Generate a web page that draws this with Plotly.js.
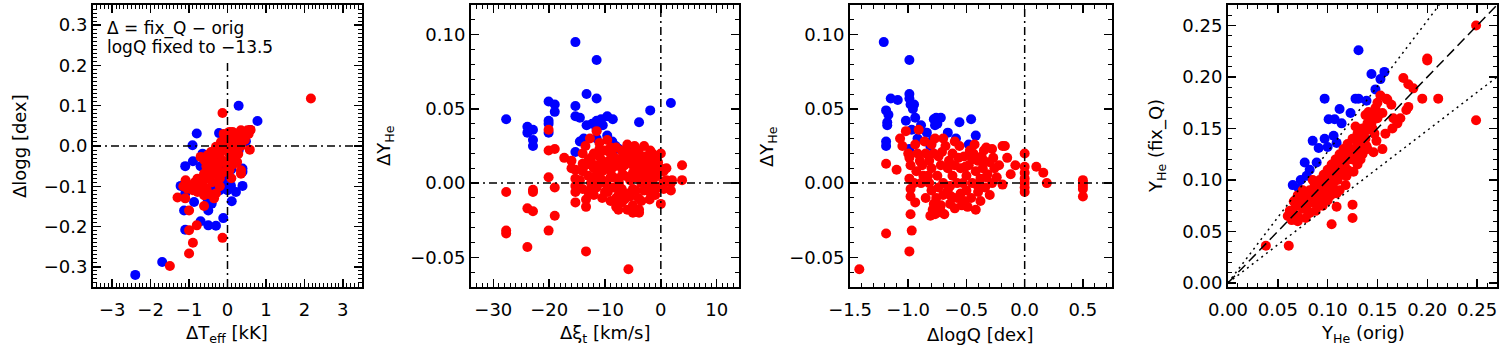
<!DOCTYPE html>
<html>
<head>
<meta charset="utf-8">
<script src="https://cdn.plot.ly/plotly-3.0.1.min.js"></script>
<style>html,body{margin:0;padding:0;background:#fff;}</style>
</head>
<body>
<div id="fig" style="width:1504px;height:354px;"></div>
<script>
// Points are [x, y] pairs, one list per panel and colour

// Panel 1: dTeff [kK] vs dlogg [dex]
const p1Blue = [
  [-2.4,-0.32],[-1.7,-0.288],[-1.1,-0.208],[-0.7,-0.187],[-0.5,-0.197],[-0.3,-0.198],[-0.11,-0.179],
  [-1.13,-0.16],[-0.5,-0.16],[-0.87,-0.139],[-0.41,-0.143],[0.11,-0.137],[-0.52,-0.131],[-1.1,-0.118],
  [0.22,-0.114],[-1.22,-0.099],[-1.04,-0.098],[-0.7,-0.098],[-0.39,-0.102],[-0.26,-0.093],[0.09,-0.099],
  [0.39,-0.099],[-0.65,-0.1],[-0.09,-0.089],[0.07,-0.081],[-0.15,-0.073],[0.39,-0.064],[0.39,-0.056],
  [0.1,-0.058],[-0.13,-0.052],[-0.57,-0.056],[-0.7,-0.05],[-1.1,-0.05],[-0.9,-0.038],[-0.48,-0.031],
  [-0.3,-0.027],[-0.65,-0.019],[0.2,-0.019],[0.29,-0.011],[0.48,0.012],[0.39,0.03],[0.59,0.04],
  [-0.91,0.002],[0.09,0.012],[-0.22,0.032],[-0.8,0.031],[0.29,0.10],[0.78,0.062],[-0.61,-0.044],
  [-0.04,-0.044],[-0.2,-0.11],[0.0,-0.11]
];
const p1Red = [
  [-0.13,0.082],[2.17,0.118],[-1.5,-0.298],[-1.0,-0.267],[-0.9,-0.24],[-1.0,-0.209],[-0.8,-0.197],
  [-0.13,-0.228],[-1.0,-0.16],[-0.61,-0.149],[-1.3,-0.128],[-0.78,-0.114],[-0.61,-0.122],[-0.3,-0.118],
  [-1.04,-0.106],[-0.96,-0.098],[-1.09,-0.085],[-0.78,-0.081],[-0.61,-0.069],[-0.39,-0.056],[-0.48,-0.044],
  [-0.7,-0.027],[-0.39,-0.031],[-0.52,-0.023],[-0.43,-0.015],[-0.26,-0.015],[-0.3,-0.002],[-0.17,0.01],
  [-0.09,0.006],[0,-0.007],[0,0.026],[0.13,0.035],[0.35,0.039],[0.52,0.039],[0.48,0.026],[0.3,0.018],
  [0.58,-0.009],[0.17,0.002],[0.3,0.006],[0.09,0.02],[0.13,-0.027],[0.35,-0.069],
  [0.2,0.03],[0.25,0.02],[0.4,0.03],[0.45,0.015],[0.05,0.01],[-0.05,0.02],[0.1,0.005],[0.2,0.01],
  [-0.1,-0.01],[-0.2,-0.02],[-0.15,-0.035],[0.05,-0.02],[0.2,-0.01],[0.25,-0.04],[-0.35,-0.04],
  [-0.25,-0.05],[-0.45,-0.06],[-0.55,-0.05],[-0.6,-0.035],[-0.3,-0.07],[-0.2,-0.08],[-0.4,-0.09],
  [-0.5,-0.08],[-0.65,-0.09],[-0.85,-0.09],[-0.9,-0.11],[-0.7,-0.1],[-0.55,-0.105],[-0.45,-0.12],
  [-0.2,-0.1],[0.05,-0.06],[0.15,-0.045],[0.35,0.0],[0.4,0.015],[0.55,0.03],[0.6,0.04],[0.35,-0.06],
  [-0.05,-0.04],[0.0,-0.05],[-0.35,-0.015],[-0.1,0.03],[0.05,0.035],[0.28,-0.02],[0.1,-0.08],
  [-0.1,-0.065],[-1.15,-0.1],[-1.1,-0.13],[-0.35,-0.13]
];

// Panel 2: dxi_t [km/s] vs dY_He
const p2Blue = [
  [-15.3,0.095],[-11.5,0.083],[-27.7,0.043],[-23.9,0.038],[-23.9,0.034],[-22.9,0.036],[-22.9,0.029],
  [-22.9,0.025],[-20.1,0.055],[-19.0,0.053],[-19.0,0.048],[-20.1,0.042],[-20.1,0.040],[-20.1,0.034],
  [-15.3,0.052],[-15.3,0.045],[-14.5,0.044],[-13.3,0.060],[-11.5,0.057],[-13.3,0.039],[-11.5,0.042],
  [-10.7,0.043],[-9.6,0.045],[-8.6,0.043],[-11.5,0.036],[-9.6,0.032],[-14.5,0.028],[-15.3,0.021],
  [-11.5,0.030],[-10.4,0.039],[-8.1,0.025],[-7.5,0.023],[-3.9,0.041],[-1.9,0.049],[1.8,0.054],
  [-13.8,0.030],[-12.3,0.040],[-8.7,0.028],[-5,0.021]
];
const p2Red = [
  [-27.7,-0.006],[-27.7,-0.032],[-27.7,-0.034],[-23.9,-0.017],[-22.9,-0.019],[-22.9,-0.0045],
  [-22.9,-0.006],[-23.9,-0.043],[-20.1,0.022],[-19.0,0.023],[-20.1,0.004],[-19.0,-0.003],[-19.0,-0.022],
  [-20.1,-0.032],[-17.3,0.017],[-20.1,0.036],[-13.4,-0.046],[-5.8,-0.058],[-15.3,0.009],[-15.3,0.003],
  [-15.3,-0.002],[-15.3,-0.006],[-15.3,-0.013],[-13.4,-0.011],[-13.4,-0.016],[-11.5,0.035],[-12.7,0.030],
  [3.8,0.012],[3.8,0.002],[1.8,-0.005],[1.8,0.0],[0,-0.014],[0,0.02],[-2,-0.011],[-3.9,-0.02],
  [-3.9,-0.018],[-7.6,-0.018],[-9.6,0.029],[-4.7,0.025],[-1.9,0.022],[-0.7,0.018],
  [-14,0.02],[-13,0.015],[-12,0.02],[-11,0.018],[-10,0.022],[-9,0.02],[-8,0.024],[-7,0.022],[-6,0.026],
  [-5,0.02],[-4,0.022],[-3,0.018],[-2,0.015],[-1,0.012],[0,0.01],
  [-14,0.008],[-13,0.005],[-12,0.01],[-11,0.006],[-10,0.012],[-9,0.008],[-8,0.014],[-7,0.01],[-6,0.016],
  [-5,0.012],[-4,0.008],[-3,0.01],[-2,0.006],[-1,0.004],[1,0.002],
  [-14,-0.004],[-12.5,0.0],[-11.5,-0.003],[-10.5,0.002],[-9.5,-0.002],[-8.5,0.004],[-7.5,0.0],
  [-6.5,0.005],[-5.5,0.002],[-4.5,0.004],[-3.5,0.0],[-2.5,0.002],[-1.5,0.0],[-0.5,-0.003],[0.5,0.001],
  [-12,-0.008],[-10,-0.006],[-8,-0.01],[-7,-0.013],[-6,-0.007],[-5,-0.015],[-4,-0.01],[-3,-0.005],
  [-8,-0.016],[-6,-0.018],[-2,-0.006],
  [-13.5,0.025],[-11,0.027],[-9,0.016],[-7,0.017],[-5,0.007],[-3,0.025],[-1.5,0.02],[-12,0.012],
  [-10.5,0.015],[-8.5,0.011],[-6.5,0.012],[-4.5,0.016],[-2.5,0.012],[-0.5,0.007],[-11,0.0],[-9,0.004],
  [-13,-0.006],[-9,-0.012],[-5,-0.004],[-1,-0.008],[0.5,-0.004],[2,0.002],[-16,0.015],[-16,0.01],[-14,0.013],
  [-13.5,0.012],[-12.5,0.017],[-11.5,0.012],[-10.5,0.008],[-9.5,0.013],[-8.5,0.018],[-7.5,0.014],
  [-6.5,0.019],[-5.5,0.016],[-4.5,0.01],[-3.5,0.014],[-2.5,0.018],[-1.5,0.008],[-0.5,0.014],[0.5,0.008],
  [-12.5,-0.004],[-10.5,-0.01],[-9.5,-0.006],[-8.5,-0.003],[-7.5,-0.007],[-6.5,-0.011],[-5.5,-0.009],
  [-4.5,-0.005],[-3.5,-0.012],[-2.5,-0.003],[-1.5,-0.005],[-7,-0.004],[-5,-0.02],[-7,0.005],[-3,0.005],
  [-11,0.023],[-9,0.024],[-6,0.021],[-4,0.016],[1,0.01],[-14.5,0.002],[-12,0.004],[-10,0.0]
];

// Panel 3: dlogQ [dex] vs dY_He
const p3Blue = [
  [-1.21,0.095],[-0.99,0.083],[-1.15,0.057],[-1.09,0.056],[-0.99,0.060],[-0.99,0.057],[-0.98,0.053],
  [-0.95,0.053],[-1.19,0.049],[-1.17,0.046],[-1.18,0.039],[-1.18,0.041],[-1.02,0.042],[-0.94,0.044],
  [-0.97,0.036],[-1.19,0.028],[-1.19,0.025],[-0.99,0.023],[-0.89,0.039],[-0.84,0.034],[-0.81,0.025],
  [-0.79,0.029],[-0.78,0.043],[-0.76,0.044],[-0.72,0.044],[-0.77,0.039],[-0.66,0.034],[-0.59,0.030],
  [-0.56,0.041],[-0.46,0.043],[-0.42,0.032],[-0.48,0.026],[-0.47,0.021],[-0.92,0.030],[-0.96,0.050],
  [-0.75,0.04]
];
const p3Red = [
  [-1.42,-0.058],[-1.19,-0.034],[-0.99,-0.046],[-0.97,-0.032],[-0.98,-0.021],[-1.19,0.013],[-1.1,0.009],
  [-1.07,0.030],[-1.02,0.035],[-0.91,0.036],[-0.94,0.026],[-0.99,0.017],[-0.98,0.012],[-0.99,0.003],
  [-0.98,-0.004],[-0.98,-0.009],[-0.94,-0.013],[-0.89,0.0],[-0.88,0.012],
  [-0.81,-0.022],[-0.77,-0.021],[-0.72,-0.019],[-0.78,-0.014],[-0.64,-0.014],[-0.54,-0.015],
  [-0.42,-0.018],[-0.55,-0.007],
  [-0.19,0.025],[-0.17,0.025],[-0.28,0.023],[-0.35,0.022],[-0.15,0.017],[-0.08,0.012],[-0.12,0.006],
  [-0.19,-0.001],
  [0,0.02],[0,0.011],[0,0.007],[0,0.003],[0,0.0],[0,-0.003],[0,-0.006],
  [0.1,0.011],[0.16,0.007],[0.19,0.0],
  [0.5,0.002],[0.5,0.0],[0.5,-0.002],[0.5,-0.004],[0.5,-0.009],
  [-0.85,0.02],[-0.82,0.015],[-0.8,0.01],[-0.78,0.02],[-0.75,0.005],[-0.72,0.012],[-0.7,0.0],
  [-0.8,-0.005],[-0.76,-0.01],[-0.7,-0.008],[-0.82,0.0],[-0.74,0.018],[-0.68,0.025],[-0.8,0.026],
  [-0.85,-0.01],[-0.72,-0.015],[-0.66,-0.005],[-0.62,0.005],[-0.6,0.012],[-0.58,0.0],[-0.55,0.01],
  [-0.52,0.018],[-0.5,0.005],[-0.48,0.012],[-0.45,0.0],[-0.42,0.008],[-0.4,0.015],[-0.38,0.003],
  [-0.36,0.01],[-0.34,-0.003],[-0.32,0.006],[-0.3,0.014],[-0.47,0.022],[-0.43,0.026],[-0.5,-0.005],
  [-0.46,-0.01],[-0.4,-0.006],[-0.58,-0.01],[-0.62,0.02],[-0.56,0.025],[-0.65,0.015],[-0.28,0.0],
  [-0.26,0.01],[-0.24,0.004],[-0.6,-0.017],[-0.69,-0.021],[-0.77,0.03],[-0.9,0.015],[-0.87,0.005],
  [-0.7,0.03],[-0.53,0.0],[-0.37,0.018],[-0.33,0.024],[-0.3,-0.008],[-0.45,0.016],[-0.64,-0.002],
  [-0.75,-0.02],[-1.0,0.02],[-0.93,0.008],
  [-0.83,0.005],[-0.79,-0.018],[-0.74,-0.003],[-0.66,0.01],[-0.63,-0.009],[-0.57,0.017],[-0.51,0.011],
  [-0.44,0.02],[-0.41,-0.001],[-0.35,0.015],[-0.33,0.004],[-0.27,0.017],[-0.22,0.012],[-0.38,-0.012],
  [-0.49,-0.016],[-0.86,0.028],[-0.92,0.02],[-1.05,0.025],[-0.95,0.0],[-0.71,0.021],[-0.6,0.028],
  [-0.52,-0.012]
];

// Panel 4: Y_He (orig) vs Y_He (fix_Q)
const p4Blue = [
  [0.131,0.226],[0.144,0.203],[0.157,0.205],[0.153,0.198],[0.148,0.188],[0.097,0.179],[0.128,0.179],
  [0.131,0.179],[0.139,0.177],[0.112,0.169],[0.123,0.165],[0.101,0.159],[0.107,0.159],[0.114,0.155],
  [0.085,0.138],[0.097,0.140],[0.106,0.143],[0.091,0.131],[0.109,0.136],[0.077,0.117],[0.089,0.117],
  [0.082,0.110],[0.065,0.095],[0.071,0.092],[0.079,0.104],[0.1,0.132],[0.073,0.1]
];
const p4Red = [
  [0.249,0.250],[0.249,0.158],[0.200,0.218],[0.200,0.216],[0.176,0.199],[0.181,0.193],[0.186,0.189],
  [0.195,0.179],[0.211,0.179],[0.181,0.171],[0.179,0.168],[0.173,0.160],[0.166,0.160],[0.164,0.173],
  [0.159,0.179],[0.153,0.182],[0.146,0.164],[0.149,0.138],[0.146,0.127],[0.139,0.133],[0.125,0.076],
  [0.125,0.063],[0.109,0.074],[0.104,0.057],[0.061,0.036],[0.038,0.036],[0.064,0.061],[0.066,0.079],
  [0.109,0.087],[0.119,0.104],[0.121,0.120],[0.133,0.127],[0.136,0.146],[0.138,0.163],[0.141,0.166],
  [0.128,0.152],
  [0.065,0.07],[0.07,0.065],[0.068,0.075],[0.072,0.08],[0.075,0.072],[0.078,0.085],[0.08,0.078],
  [0.082,0.09],[0.085,0.082],[0.087,0.095],[0.09,0.088],[0.092,0.1],[0.094,0.092],[0.096,0.105],
  [0.098,0.097],[0.1,0.11],[0.102,0.1],[0.104,0.115],[0.106,0.105],[0.108,0.12],[0.11,0.11],
  [0.112,0.125],[0.114,0.115],[0.116,0.13],[0.118,0.118],[0.12,0.135],[0.122,0.125],[0.125,0.14],
  [0.128,0.13],[0.13,0.145],[0.132,0.135],[0.135,0.15],[0.138,0.14],[0.14,0.155],[0.143,0.16],
  [0.145,0.15],[0.148,0.17],[0.15,0.175],[0.155,0.165],[0.16,0.178],
  [0.07,0.06],[0.075,0.09],[0.08,0.07],[0.085,0.1],[0.09,0.075],[0.095,0.085],[0.1,0.09],[0.105,0.095],
  [0.11,0.1],[0.115,0.105],[0.12,0.11],[0.125,0.12],[0.13,0.115],[0.135,0.125],[0.088,0.07],
  [0.095,0.075],[0.1,0.08],[0.112,0.09],[0.118,0.095],[0.078,0.063],[0.082,0.068],[0.092,0.08],
  [0.098,0.09],[0.103,0.085],[0.06,0.065],[0.062,0.07],[0.067,0.08],[0.07,0.085],[0.108,0.09],
  [0.155,0.13],[0.165,0.15],[0.17,0.155],[0.158,0.145],
  [0.074,0.078],[0.083,0.086],[0.091,0.094],[0.097,0.1],[0.103,0.106],[0.107,0.112],[0.113,0.118],
  [0.119,0.124],[0.124,0.13],[0.129,0.138],[0.134,0.142],[0.139,0.148],[0.144,0.155],[0.15,0.16],
  [0.086,0.078],[0.096,0.092],[0.106,0.098],[0.116,0.112],[0.126,0.126],[0.137,0.135],[0.147,0.145],
  [0.126,0.108],[0.133,0.12],[0.14,0.13]
];

// reference lines in panel 4: one-to-one and the two dotted envelopes
const oneToOne = [[0, 0], [0.27, 0.27]];
const upperEnv = [[0, 0], [0.212, 0.27]];
const lowerEnv = [[0, 0], [0.27, 0.2]];

// axis titles, panel by panel
const xTitles = ['\u0394T<sub>eff</sub> [kK]', '\u0394\u03be<sub>t</sub> [km/s]', '\u0394logQ [dex]', 'Y<sub>He</sub> (orig)'];
const yTitles = ['\u0394logg [dex]', '\u0394Y<sub>He</sub>', '\u0394Y<sub>He</sub>', 'Y<sub>He</sub> (fix_Q)'];

const FONT = 'DejaVu Sans, Verdana, sans-serif';
const W = 1504, H = 354;

// panel boxes in page pixels: [left, right]; all share top 5 / bottom 287
const boxes = [[93, 362], [471, 739], [850, 1112], [1228, 1497]];
const yTitleX = [19, 385, 768, 1157];

function scatter(pts, color, n) {
  return {
    x: pts.map(p => p[0]), y: pts.map(p => p[1]),
    type: 'scatter', mode: 'markers',
    xaxis: 'x' + (n > 1 ? n : ''), yaxis: 'y' + (n > 1 ? n : ''),
    marker: {size: 10, color: color, line: {width: 0}},
    hoverinfo: 'skip', showlegend: false
  };
}

function refLine(pts, n, dash) {
  return {
    x: pts.map(p => p[0]), y: pts.map(p => p[1]),
    type: 'scatter', mode: 'lines',
    xaxis: 'x' + n, yaxis: 'y' + n,
    line: {color: '#000', width: 1.5, dash: dash},
    hoverinfo: 'skip', showlegend: false
  };
}

function axis(range, dtick, minor, fmt, extra) {
  return Object.assign({
    range: range, dtick: dtick, tick0: 0, tickformat: fmt,
    showline: true, linecolor: '#000', linewidth: 2, mirror: 'allticks',
    ticks: 'inside', ticklen: 8, tickwidth: 1.5, tickcolor: '#000',
    minor: {dtick: minor, tick0: 0, ticks: 'inside', ticklen: 4, tickwidth: 1, tickcolor: '#000', showgrid: false},
    showgrid: false, zeroline: false, fixedrange: true,
    tickfont: {family: FONT, size: 18, color: '#000'}
  }, extra || {});
}

const yDom = [(H - 287) / H, (H - 5) / H];
const xDom = i => [boxes[i][0] / W, boxes[i][1] / W];

const data = [
  scatter(p1Blue, '#0000ff', 1), scatter(p1Red, '#ff0000', 1),
  scatter(p2Blue, '#0000ff', 2), scatter(p2Red, '#ff0000', 2),
  scatter(p3Blue, '#0000ff', 3), scatter(p3Red, '#ff0000', 3),
  scatter(p4Blue, '#0000ff', 4), scatter(p4Red, '#ff0000', 4),
  refLine(oneToOne, 4, '10px,5px'),
  refLine(upperEnv, 4, '2px,4px'),
  refLine(lowerEnv, 4, '2px,4px')
];

const dashDot = '8px,4px,2px,4px';
function zeroLines(n, yTop) {
  const xr = n === 1 ? 'x' : 'x' + n, yr = n === 1 ? 'y' : 'y' + n;
  return [
    {type: 'line', xref: xr + ' domain', yref: yr, x0: 0, x1: 1, y0: 0, y1: 0,
     line: {color: '#000', width: 1.5, dash: dashDot}},
    {type: 'line', xref: xr, yref: yr + ' domain', x0: 0, x1: 0, y0: 0, y1: yTop,
     line: {color: '#000', width: 1.5, dash: dashDot}}
  ];
}

const annotations = [
  {xref: 'x domain', yref: 'y domain', x: 0.045, y: 0.918, xanchor: 'left', yanchor: 'middle',
   text: '\u0394 = fix_Q \u2212 orig', showarrow: false, font: {family: FONT, size: 17, color: '#000'}},
  {xref: 'x domain', yref: 'y domain', x: 0.045, y: 0.85, xanchor: 'left', yanchor: 'middle',
   text: 'logQ fixed to \u221213.5', showarrow: false, font: {family: FONT, size: 17, color: '#000'}}
];
xTitles.forEach((t, i) => {
  annotations.push({
    xref: 'paper', yref: 'paper', x: (boxes[i][0] + boxes[i][1]) / 2 / W, y: (H - 334) / H,
    xanchor: 'center', yanchor: 'middle', text: t, showarrow: false,
    font: {family: FONT, size: 18, color: '#000'}
  });
});
yTitles.forEach((t, i) => {
  annotations.push({
    xref: 'paper', yref: 'paper', x: yTitleX[i] / W, y: (H - 146) / H, textangle: -90,
    xanchor: 'center', yanchor: 'middle', text: t, showarrow: false,
    font: {family: FONT, size: 18, color: '#000'}
  });
});

const xLab = {ticklabelstandoff: 5};
const layout = {
  width: W, height: H,
  margin: {l: 0, r: 0, t: 0, b: 0},
  paper_bgcolor: '#fff', plot_bgcolor: '#fff',
  font: {family: FONT, size: 18, color: '#000'},
  showlegend: false,
  xaxis: axis([-3.5, 3.5], 1, 0.1, 'd', Object.assign({domain: xDom(0), anchor: 'y'}, xLab)),
  yaxis: axis([-0.35, 0.35], 0.1, 0.01, '.1f', {domain: yDom, anchor: 'x'}),
  xaxis2: axis([-34, 14], 10, 1, 'd', Object.assign({domain: xDom(1), anchor: 'y2'}, xLab)),
  yaxis2: axis([-0.07, 0.12], 0.05, 0.01, '.2f', {domain: yDom, anchor: 'x2'}),
  xaxis3: axis([-1.5, 0.75], 0.5, 0.1, '.1f', Object.assign({domain: xDom(2), anchor: 'y3'}, xLab)),
  yaxis3: axis([-0.07, 0.12], 0.05, 0.01, '.2f', {domain: yDom, anchor: 'x3'}),
  xaxis4: axis([0, 0.27], 0.05, 0.01, '.2f', Object.assign({domain: xDom(3), anchor: 'y4'}, xLab)),
  yaxis4: axis([-0.004, 0.27], 0.05, 0.01, '.2f', {domain: yDom, anchor: 'x4'}),
  shapes: [].concat(zeroLines(1, 0.8), zeroLines(2, 1), zeroLines(3, 1)),
  annotations: annotations
};

Plotly.newPlot('fig', data, layout, {staticPlot: true, displayModeBar: false});
</script>
</body>
</html>
